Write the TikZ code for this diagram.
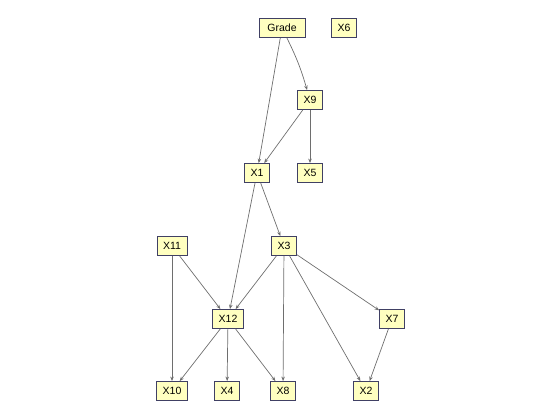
\documentclass[tikz,border=0pt]{standalone}
\usepackage{fontspec}
\setmainfont{Liberation Sans}
\usetikzlibrary{arrows.meta}
\definecolor{boxfill}{RGB}{255,255,192}
\definecolor{boxline}{RGB}{64,64,100}
\definecolor{edgegray}{RGB}{110,110,110}
\tikzset{
  var/.style={draw=boxline, fill=boxfill, line width=0.8pt, minimum height=19pt, inner xsep=6pt, inner ysep=0pt, font=\fontsize{10.5}{12}\selectfont},
  edge/.style={draw=edgegray, line width=0.7pt, -{Stealth[length=4.5pt,width=3.5pt]}}
}
\begin{document}
\begin{tikzpicture}[x=1pt,y=-1pt]
			% 画像の範囲
			\useasboundingbox (0,0) rectangle (560,420);
			% 変数の描画
			\node[var, minimum width=46pt] (Grade) at (282,28) {Grade};
			\node[var] (X6) at (344,28) {X6};
			\node[var] (X9) at (310,100) {X9};
			\node[var] (X1) at (257,173) {X1};
			\node[var] (X5) at (310,173) {X5};
			\node[var] (X11) at (172,246) {X11};
			\node[var] (X3) at (284,246) {X3};
			\node[var] (X12) at (228,319) {X12};
			\node[var] (X7) at (392,319) {X7};
			\node[var] (X10) at (172,391) {X10};
			\node[var] (X4) at (227,391) {X4};
			\node[var] (X8) at (283,391) {X8};
			\node[var] (X2) at (366,391) {X2};
			% 矢印の描画
			\draw[edge] (Grade) to[bend left=5] (X9);
			\draw[edge] (Grade) -- (X1);
			\draw[edge] (X9) -- (X1);
			\draw[edge] (X9) -- (X5);
			\draw[edge] (X1) -- (X3);
			\draw[edge] (X1) -- (X12);
			\draw[edge] (X11) -- (X12);
			\draw[edge] (X11) -- (X10);
			\draw[edge] (X3) -- (X12);
			\draw[edge] (X3) -- (X8);
			\draw[edge] (X3) -- (X2);
			\draw[edge] (X3) -- (X7);
			\draw[edge] (X7) -- (X2);
			\draw[edge] (X12) -- (X10);
			\draw[edge] (X12) -- (X4);
			\draw[edge] (X12) -- (X8);
\end{tikzpicture}
\end{document}
